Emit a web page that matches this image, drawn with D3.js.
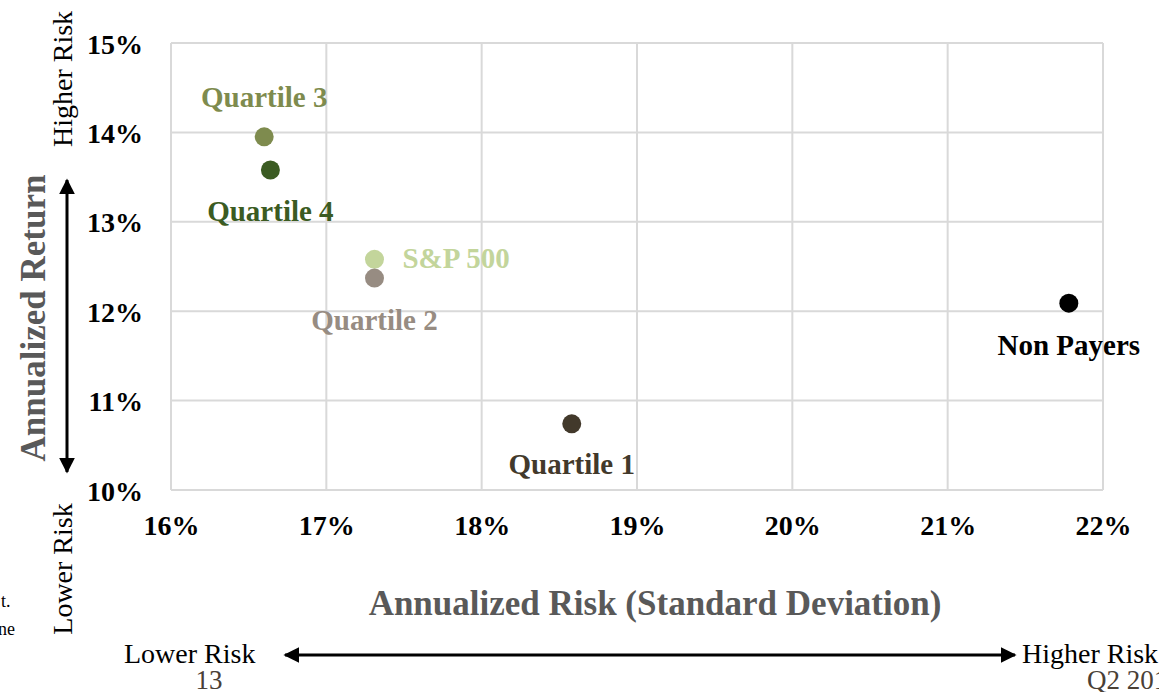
<!DOCTYPE html>
<html>
<head>
<meta charset="utf-8">
<script src="https://cdn.jsdelivr.net/npm/d3@7/dist/d3.min.js"></script>
<style>
html,body{margin:0;padding:0;background:#fff;}
svg{display:block;font-family:"Liberation Serif","Times New Roman",serif;}
</style>
</head>
<body>
<svg id="chart" width="1159" height="692"></svg>
<script>
const names = ["Quartile 3","Quartile 4","S&P 500","Quartile 2","Quartile 1","Non Payers"];
const risk = [16.60, 16.64, 17.31, 17.31, 18.58, 21.78];
const ret = [13.95, 13.58, 12.58, 12.37, 10.74, 12.09];
const colors = ["#7e8b4e","#3b5b22","#c3d59b","#978c82","#42392b","#000000"];
const xTicks = [16,17,18,19,20,21,22];
const yTicks = [10,11,12,13,14,15];

const svg = d3.select("#chart");
const defs = svg.append("defs");
defs.append("marker").attr("id","ah").attr("viewBox","0 0 10 10").attr("refX",9).attr("refY",5)
  .attr("markerWidth",16).attr("markerHeight",16).attr("markerUnits","userSpaceOnUse")
  .attr("orient","auto-start-reverse")
  .append("path").attr("d","M0,0 L10,5 L0,10 Z").attr("fill","#000");

const x = d3.scaleLinear().domain([16,22]).range([171,1103]);
const y = d3.scaleLinear().domain([10,15]).range([490,43]);

// gridlines
const grid = svg.append("g");
grid.selectAll("line.v").data(xTicks).join("line").attr("class","v")
  .attr("x1",d=>x(d)).attr("x2",d=>x(d)).attr("y1",y(15)).attr("y2",y(10))
  .attr("stroke","#d9d9d9").attr("stroke-width",2);
grid.selectAll("line.h").data(yTicks).join("line").attr("class","h")
  .attr("x1",x(16)).attr("x2",x(22)).attr("y1",d=>y(d)).attr("y2",d=>y(d))
  .attr("stroke","#d9d9d9").attr("stroke-width",2);

// axes
const xAxis = d3.axisBottom(x).tickValues(xTicks).tickFormat(d=>d+"%").tickSize(0).tickPadding(0);
const gx = svg.append("g").attr("transform",`translate(0,${y(10)})`).call(xAxis);
gx.select(".domain").remove();
gx.selectAll("text").attr("font-size",28).attr("font-weight","bold").attr("fill","#000")
  .attr("font-family","Liberation Serif").attr("dy",null).attr("y",45);

const yAxis = d3.axisLeft(y).tickValues(yTicks).tickFormat(d=>d+"%").tickSize(0).tickPadding(0);
const gy = svg.append("g").attr("transform",`translate(${x(16)},0)`).call(yAxis);
gy.select(".domain").remove();
gy.selectAll("text").attr("font-size",28).attr("font-weight","bold").attr("fill","#000")
  .attr("font-family","Liberation Serif").attr("x",-28).attr("dy","0.36em");

// points
svg.selectAll("circle.pt").data(names).join("circle").attr("class","pt")
  .attr("cx",(d,i)=>x(risk[i])).attr("cy",(d,i)=>y(ret[i])).attr("r",9.5)
  .attr("fill",(d,i)=>colors[i]);

// labels: offsets relative to point
const lab = [
  {dx:0,dy:-30,anchor:"middle"},
  {dx:0,dy:51,anchor:"middle"},
  {dx:28,dy:9,anchor:"start"},
  {dx:0,dy:52,anchor:"middle"},
  {dx:0,dy:50,anchor:"middle"},
  {dx:0,dy:52,anchor:"middle"}
];
svg.selectAll("text.lab").data(names).join("text").attr("class","lab")
  .attr("x",(d,i)=>x(risk[i])+lab[i].dx).attr("y",(d,i)=>y(ret[i])+lab[i].dy)
  .attr("text-anchor",(d,i)=>lab[i].anchor)
  .attr("font-size",29).attr("font-weight","bold").attr("fill",(d,i)=>colors[i])
  .text(d=>d);

// axis titles
svg.append("text").attr("x",655).attr("y",615).attr("text-anchor","middle")
  .attr("font-size",35).attr("font-weight","bold").attr("fill","#595959")
  .text("Annualized Risk (Standard Deviation)");
svg.append("text").attr("transform","translate(45,318) rotate(-90)").attr("text-anchor","middle")
  .attr("font-size",35).attr("font-weight","bold").attr("fill","#595959")
  .text("Annualized Return");

// risk arrows
svg.append("line").attr("x1",67).attr("x2",67).attr("y1",180).attr("y2",472)
  .attr("stroke","#000").attr("stroke-width",3)
  .attr("marker-start","url(#ah)").attr("marker-end","url(#ah)");
svg.append("line").attr("x1",285).attr("x2",1015).attr("y1",655).attr("y2",655)
  .attr("stroke","#000").attr("stroke-width",3)
  .attr("marker-start","url(#ah)").attr("marker-end","url(#ah)");

svg.append("text").attr("transform","translate(72,79) rotate(-90)").attr("text-anchor","middle")
  .attr("font-size",28).attr("fill","#000").text("Higher Risk");
svg.append("text").attr("transform","translate(72,569) rotate(-90)").attr("text-anchor","middle")
  .attr("font-size",28).attr("fill","#000").text("Lower Risk");
svg.append("text").attr("x",124).attr("y",663).attr("font-size",28).attr("fill","#000").text("Lower Risk");
svg.append("text").attr("x",1022).attr("y",663).attr("font-size",28).attr("fill","#000").text("Higher Risk");

// page fragments
svg.append("text").attr("x",209).attr("y",689).attr("text-anchor","middle").attr("font-size",27).attr("fill","#4a4036").text("13");
svg.append("text").attr("x",1087).attr("y",689).attr("font-size",27).attr("fill","#4a4036").text("Q2 2019");
svg.append("text").attr("x",1).attr("y",607).attr("font-size",18).attr("fill","#000").text("t.");
svg.append("text").attr("x",-2).attr("y",635).attr("font-size",18).attr("fill","#000").text("ne");
</script>
</body>
</html>
